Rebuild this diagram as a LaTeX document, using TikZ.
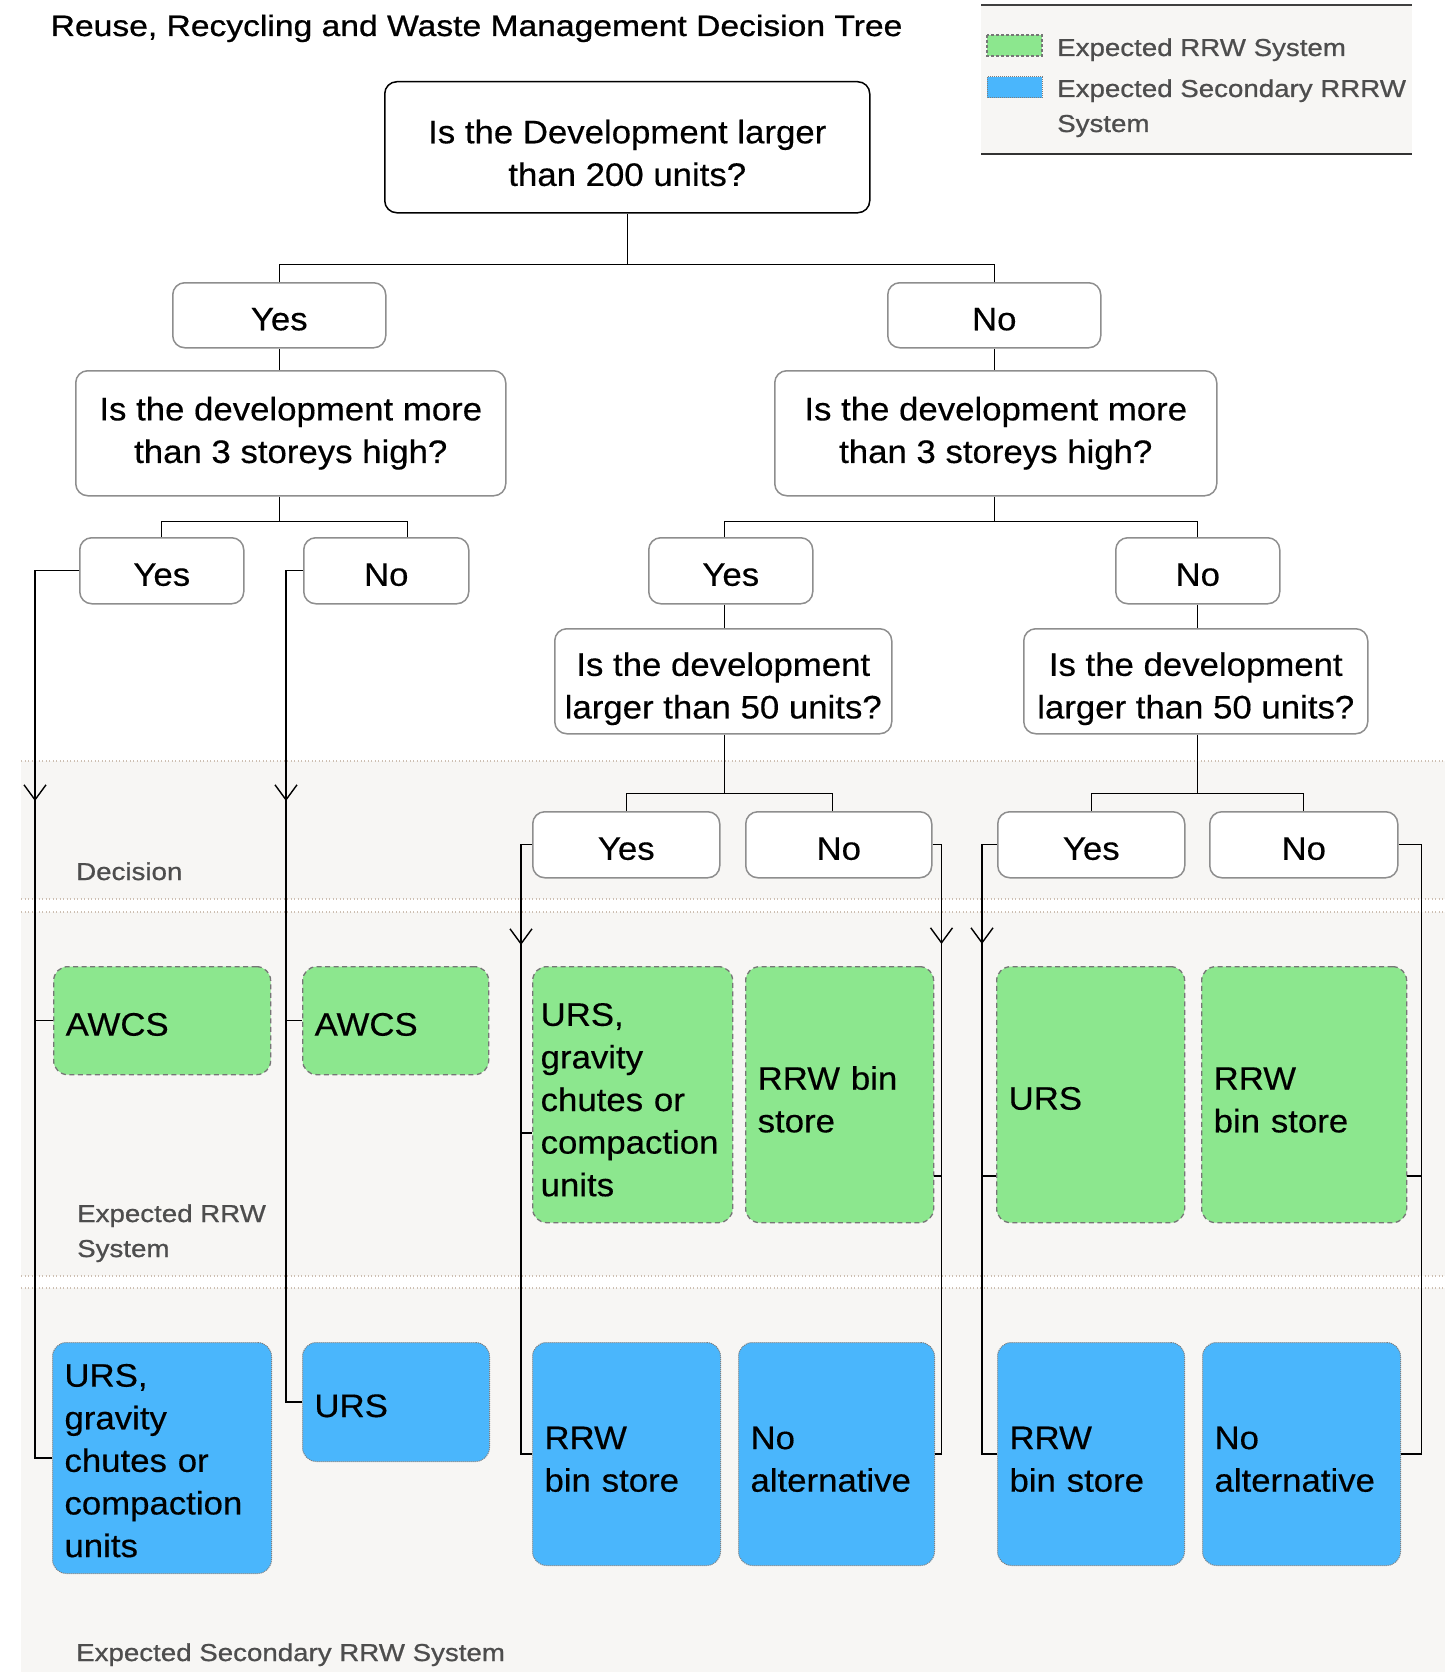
\documentclass[tikz,border=0pt]{standalone}
\usepackage{fontspec}
\setmainfont{Liberation Sans}[FakeStretch=1.07,FakeBold=0.4]
\newfontfamily\titlefont{Liberation Sans}[FakeStretch=1.14,FakeBold=0.8]
\newfontfamily\labelfont{Liberation Sans}[FakeStretch=1.13,FakeBold=0.8]
\usetikzlibrary{arrows.meta,calc}
\definecolor{bandgray}{HTML}{F7F6F4}
\definecolor{dotc}{HTML}{CDBFB2}
\definecolor{greenbox}{HTML}{8CE78E}
\definecolor{bluebox}{HTML}{4AB6FC}
\definecolor{labelc}{HTML}{4D4D4D}
\definecolor{qborder}{HTML}{8E8E8E}
\definecolor{gborder}{HTML}{767676}
\definecolor{bborder}{HTML}{7E7E7E}
\newcommand{\fl}[1][33pt]{\rule{0pt}{#1}}
\begin{document}
\begin{tikzpicture}[x=1pt,y=-1pt,
  conn/.style={draw=black, line width=1.4pt},
  arr/.style={draw=black, line width=1.4pt, -{Straight Barb[length=15pt,width=22pt]}},
  txt/.style={font=\fontsize{32.5}{42.6}\selectfont, text=black},
  sz/.style 2 args={minimum width=#1pt, minimum height=#2pt},
  qbox/.style={txt, draw=qborder, line width=1.5pt, rounded corners=12pt, fill=white, align=center, anchor=north west, inner sep=0pt},
  yn/.style={text height=30pt, text depth=0pt},
  gbox/.style={txt, draw=gborder, fill=greenbox, line width=1.3pt, dash pattern=on 5pt off 3.5pt, rounded corners=14pt, align=left, anchor=north west, inner xsep=12pt, inner ysep=0pt},
  bbox/.style={txt, draw=bborder, fill=bluebox, line width=1pt, dash pattern=on 1pt off 1pt, rounded corners=14pt, align=left, anchor=north west, inner xsep=12pt, inner ysep=0pt},
  lab/.style={font=\labelfont\fontsize{24.5}{35}\selectfont, text=labelc, inner sep=0pt, align=left, anchor=base west},
  dotline/.style={draw=dotc, line width=1.3pt, dash pattern=on 1.3pt off 2.2pt},
]
\useasboundingbox (0,0) rectangle (1452,1672);
% bands
\fill[bandgray] (21,761) rectangle (1445,899);
\fill[bandgray] (21,912) rectangle (1445,1276);
\fill[bandgray] (21,1288) rectangle (1445,1672);
\foreach \yy in {761,899,912,1276,1288} {\draw[dotline] (21,\yy) -- (1445,\yy);}
\node[lab] (ldec) at (76,880) {Decision};
\node[lab] (lrrw) at (77,1257) {Expected RRW\\System};
\node[lab] (lsec) at (76,1661) {Expected Secondary RRW System};

% title
\node[anchor=base west, font=\titlefont\fontsize{29.5}{35}\selectfont, inner sep=0pt] (title) at (50.5,36) {Reuse, Recycling and Waste Management Decision Tree};

% legend
\fill[bandgray] (981,5) rectangle (1412,154);
\draw[draw=black!75, line width=2pt] (981,5) -- (1412,5);
\draw[draw=black!80, line width=2.4pt] (981,154) -- (1412,154);
\draw[fill=greenbox, draw=gborder, line width=1.2pt, dash pattern=on 3pt off 2pt] (987,35) rectangle (1042,56);
\draw[fill=bluebox, draw=bborder, line width=1pt, dash pattern=on 1pt off 1pt] (987,77) rectangle (1042,98);
\node[lab] (leg1) at (1057,56) {Expected RRW System};
\node[lab] (leg2) at (1057,132) {Expected Secondary RRRW\\System};

% question / answer boxes
\node[qbox, draw=black, sz={485}{131}] (root) at (384,81) {\rule{0pt}{35pt}Is the Development larger\\than 200 units?};
\node[qbox, yn, sz={213}{65}] (l1yes) at (172,282) {Yes};
\node[qbox, yn, sz={213}{65}] (l1no) at (887,282) {No};
\node[qbox, sz={430}{125}] (q2l) at (75,370) {Is the development more\\than 3 storeys high?};
\node[qbox, sz={442}{125}] (q2r) at (774,370) {Is the development more\\than 3 storeys high?};
\node[qbox, yn, sz={164}{66}] (l2lyes) at (79,537) {Yes};
\node[qbox, yn, sz={165}{66}] (l2lno) at (303,537) {No};
\node[qbox, yn, sz={164}{66}] (l2ryes) at (648,537) {Yes};
\node[qbox, yn, sz={164}{66}] (l2rno) at (1115,537) {No};
\node[qbox, sz={337}{105}] (q3l) at (554,628) {\rule{0pt}{38.5pt}Is the development\\larger than 50 units?};
\node[qbox, sz={344}{105}] (q3r) at (1023,628) {\rule{0pt}{38.5pt}Is the development\\larger than 50 units?};
\node[qbox, yn, sz={187}{66}] (l3lyes) at (532,811) {Yes};
\node[qbox, yn, sz={186}{66}] (l3lno) at (745,811) {No};
\node[qbox, yn, sz={187}{66}] (l3ryes) at (997,811) {Yes};
\node[qbox, yn, sz={188}{66}] (l3rno) at (1209,811) {No};

% expected RRW system (green)
\node[gbox, yn, sz={217}{108}, text width=193pt] (g1) at (53,966) {AWCS};
\node[gbox, yn, sz={186}{108}, text width=162pt] (g2) at (302,966) {AWCS};
\node[gbox, sz={200}{256}, inner xsep=8pt, text width=184pt] (g3) at (532,966) {\fl URS,\\gravity\\chutes or\\compaction\\units};
\node[gbox, sz={188}{256}, text width=164pt] (g4) at (745,966) {\fl RRW bin\\store};
\node[gbox, yn, sz={188}{256}, text width=164pt] (g5) at (996,966) {URS};
\node[gbox, sz={205}{256}, text width=181pt] (g6) at (1201,966) {\fl RRW\\bin store};

% expected secondary system (blue)
\node[bbox, sz={219}{231}, text width=195pt] (b1) at (52,1342) {\fl[28pt]URS,\\gravity\\chutes or\\compaction\\units};
\node[bbox, yn, sz={187}{119}, text width=163pt] (b2) at (302,1342) {URS};
\node[bbox, sz={188}{223}, text width=164pt] (b3) at (532,1342) {\fl RRW\\bin store};
\node[bbox, sz={196}{223}, text width=172pt] (b4) at (738,1342) {\fl No\\alternative};
\node[bbox, sz={187}{223}, text width=163pt] (b5) at (997,1342) {\fl RRW\\bin store};
\node[bbox, sz={198}{223}, text width=174pt] (b6) at (1202,1342) {\fl No\\alternative};

% tree connectors
\draw[conn] (root.south) -- ++(0,51) coordinate (j0);
\draw[conn] (j0) -| (l1yes.north);
\draw[conn] (j0) -| (l1no.north);
\draw[conn] (l1yes.south) -- (l1yes.south |- q2l.north);
\draw[conn] (l1no.south) -- (l1no.south |- q2r.north);

\draw[conn] (q2l.south -| l1yes.south) -- ++(0,25) coordinate (j1);
\coordinate (lno) at ($(l2lno.north)+(21,0)$);
\draw[conn] (j1) -| (l2lyes.north);
\draw[conn] (j1) -| (lno);

\draw[conn] (q2r.south -| l1no.south) -- ++(0,25) coordinate (j2);
\coordinate (ry) at ($(l2ryes.north)+(-6,0)$);
\coordinate (rys) at ($(l2ryes.south)+(-6,0)$);
\draw[conn] (j2) -| (ry);
\draw[conn] (j2) -| (l2rno.north);
\draw[conn] (rys) -- (rys |- q3l.north);
\draw[conn] (l2rno.south) -- (l2rno.south |- q3r.north);

\draw[conn] (q3l.south -| rys) -- ++(0,59) coordinate (j3);
\coordinate (lln) at ($(l3lno.north)+(-6,0)$);
\draw[conn] (j3) -| (l3lyes.north);
\draw[conn] (j3) -| (lln);
\draw[conn] (q3r.south -| l2rno.south) -- ++(0,59) coordinate (j4);
\draw[conn] (j4) -| (l3ryes.north);
\draw[conn] (j4) -| (l3rno.north);

% outcome connectors
\draw[conn] (l2lyes.west) -- ++(-44,0) coordinate (s1) |- (b1.west);
\draw[conn] (s1 |- g1.west) -- (g1.west);
\draw[arr] (s1 |- 0,780) -- (s1 |- 0,801);

\draw[conn] (l2lno.west) -- ++(-17,0) coordinate (s2) |- (b2.west);
\draw[conn] (s2 |- g2.west) -- (g2.west);
\draw[arr] (s2 |- 0,780) -- (s2 |- 0,801);

\draw[conn] (l3lyes.west) -- ++(-11,0) coordinate (s3) |- (b3.west);
\draw[conn] (s3 |- 0,1133) -- (g3.west |- 0,1133);
\draw[arr] (s3 |- 0,925) -- (s3 |- 0,945);

\draw[conn] (l3lno.east) -- ++(9,0) coordinate (s4) |- (b4.east);
\draw[conn] (s4 |- 0,1176) -- (g4.east |- 0,1176);
\draw[arr] (s4 |- 0,925) -- (s4 |- 0,944);

\draw[conn] (l3ryes.west) -- ++(-15,0) coordinate (s5) |- (b5.west);
\draw[conn] (s5 |- 0,1176) -- (g5.west |- 0,1176);
\draw[arr] (s5 |- 0,925) -- (s5 |- 0,944);

\draw[conn] (l3rno.east) -- ++(23,0) coordinate (s6) |- (b6.east);
\draw[conn] (s6 |- 0,1176) -- (g6.east |- 0,1176);
\end{tikzpicture}
\end{document}
